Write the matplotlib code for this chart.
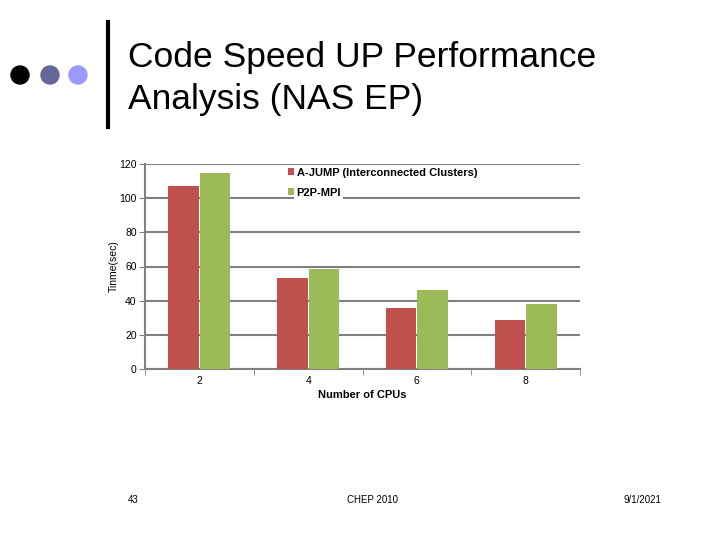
import matplotlib.pyplot as plt
import numpy as np
from matplotlib.patches import Circle

plt.rcParams['font.family'] = ['Liberation Sans', 'DejaVu Sans']

cpus = ['2', '4', '6', '8']
ajump = [107, 53.5, 36, 28.5]
p2pmpi = [114.5, 58.5, 46, 38]
series_names = ['A-JUMP (Interconnected Clusters)', 'P2P-MPI']
red = '#C0504D'
green = '#9BBB59'

fig = plt.figure(figsize=(7.2, 5.4), dpi=100)

# slide decoration
fig.text(128 / 720, 1 - 57 / 540, 'Code Speed UP Performance', fontsize=25.5,
         va='center', ha='left')
fig.text(128 / 720, 1 - 99 / 540, 'Analysis (NAS EP)', fontsize=25.5,
         va='center', ha='left')
fig.add_artist(plt.Line2D([108 / 720, 108 / 720], [1 - 22 / 540, 1 - 127 / 540],
                          color='black', lw=3, transform=fig.transFigure))
for cx, col in [(20, 'black'), (50, '#666699'), (78, '#9999FF')]:
    fig.add_artist(Circle((cx, 540 - 75), 9, color=col,
                          transform=None))

fig.text(133 / 720, 1 - 500 / 540, '43', fontsize=7, ha='center', va='center')
fig.text(372 / 720, 1 - 500 / 540, 'CHEP 2010', fontsize=7, ha='center', va='center')
fig.text(642 / 720, 1 - 500 / 540, '9/1/2021', fontsize=7, ha='center', va='center')

# chart
ax = fig.add_axes([145 / 720, 1 - 369 / 540, 435 / 720, 205 / 540])
x = np.arange(len(cpus))
w = 0.28
ax.bar(x - w / 2 - 0.005, ajump, w, color=red, label=series_names[0], zorder=3)
ax.bar(x + w / 2 + 0.005, p2pmpi, w, color=green, label=series_names[1], zorder=3)

ax.set_xlim(-0.5, len(cpus) - 0.5)
ax.set_ylim(0, 120)
ax.set_yticks(range(0, 121, 20))
ax.set_xticks(x)
ax.set_xticklabels(cpus)
ax.set_xticks(np.arange(-0.5, len(cpus), 1), minor=True)
ax.tick_params(axis='x', which='major', length=0, labelsize=7.5, pad=5)
ax.tick_params(axis='x', which='minor', length=4, color='#808080')
ax.tick_params(axis='y', length=4, color='#808080', labelsize=7.5, pad=2)
ax.yaxis.grid(True, color='#808080', lw=1.5, zorder=0)
for s in ['top', 'right']:
    ax.spines[s].set_visible(False)
for s in ['left', 'bottom']:
    ax.spines[s].set_color('#808080')
    ax.spines[s].set_linewidth(1.5)

ax.set_xlabel('Number of CPUs', fontsize=8, fontweight='bold', labelpad=3)
ax.set_ylabel('Tinme(sec)', fontsize=7.5, labelpad=0)

leg = ax.legend(loc='upper left', bbox_to_anchor=(0.31, 1.02), frameon=False,
                handlelength=0.6, handleheight=0.6, handletextpad=0.2,
                labelspacing=0.9, borderpad=0.2,
                prop={'size': 8, 'weight': 'bold'})
leg.set_zorder(5)
leg.get_texts()[1].set_bbox(dict(facecolor='white', edgecolor='none', pad=1.5))

fig.savefig('out.png', dpi=100)
